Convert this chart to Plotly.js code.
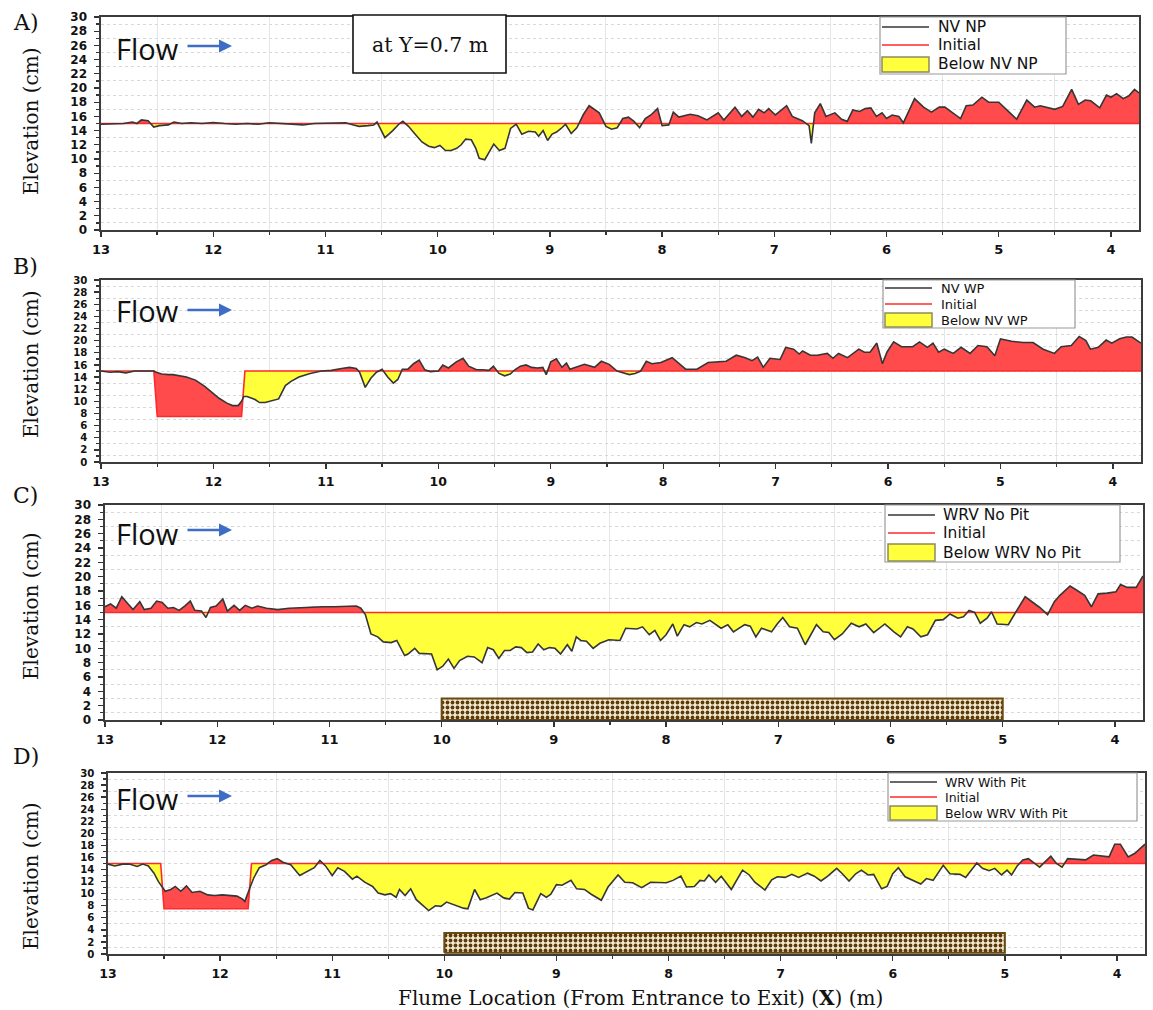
<!DOCTYPE html>
<html><head><meta charset="utf-8">
<script src="https://cdn.plot.ly/plotly-3.0.1.min.js"></script>
<style>html,body{margin:0;padding:0;background:#fff}#chart{width:1153px;height:1010px}</style>
</head><body><div id="chart"></div>
<script>
// ---------------- DATA ----------------
const stationsA = [13.00,12.90,12.80,12.72,12.68,12.64,12.58,12.53,12.48,12.40,12.35,12.28,12.20,12.10,12.00,11.90,11.80,11.70,11.60,11.50,11.40,11.30,11.20,11.10,11.00,10.90,10.82,10.75,10.70,10.62,10.57,10.54,10.47,10.40,10.34,10.31,10.26,10.20,10.14,10.08,10.03,9.98,9.93,9.88,9.83,9.79,9.75,9.70,9.66,9.63,9.58,9.54,9.50,9.45,9.40,9.35,9.30,9.25,9.19,9.13,9.10,9.06,9.02,8.98,8.94,8.90,8.86,8.81,8.76,8.70,8.65,8.56,8.50,8.45,8.40,8.35,8.30,8.25,8.20,8.15,8.10,8.04,8.00,7.94,7.90,7.85,7.75,7.68,7.60,7.50,7.45,7.35,7.29,7.24,7.19,7.14,7.09,7.05,6.99,6.89,6.84,6.75,6.69,6.67,6.64,6.59,6.54,6.46,6.40,6.35,6.30,6.24,6.19,6.14,6.09,6.04,6.00,5.95,5.89,5.85,5.75,5.67,5.60,5.53,5.48,5.34,5.29,5.23,5.15,5.09,5.00,4.90,4.84,4.75,4.68,4.63,4.50,4.43,4.35,4.29,4.23,4.18,4.10,4.04,4.00,3.95,3.89,3.84,3.79,3.75];
const elevA = [14.9,14.9,15.0,15.2,15.0,15.5,15.4,14.5,14.7,14.8,15.2,15.0,15.1,15.0,15.15,15.0,14.9,15.0,14.9,15.1,15.0,14.9,14.8,15.0,15.0,15.0,15.1,14.8,14.6,14.7,14.8,15.2,13.0,14.0,15.0,15.3,14.6,13.5,12.4,11.8,11.6,11.9,11.2,11.2,11.5,12.0,12.8,12.7,11.5,10.1,9.9,11.0,12.1,11.2,11.5,14.3,14.9,13.5,13.9,13.8,13.2,14.0,12.6,13.5,13.8,14.3,14.9,13.6,14.4,16.3,17.5,16.5,14.6,14.2,14.4,15.7,15.9,15.3,14.4,15.7,16.2,17.1,14.7,14.8,16.6,15.9,16.3,16.1,15.5,16.5,15.5,17.3,16.0,16.8,15.9,17.0,16.5,17.1,16.2,17.5,16.0,15.4,14.7,12.2,16.5,17.8,16.0,16.5,15.6,15.3,16.9,16.7,17.1,17.2,16.0,16.5,15.7,16.2,16.0,15.1,18.5,17.3,16.6,17.3,17.3,15.7,17.5,17.6,18.7,18.0,18.0,16.5,15.6,18.3,17.3,17.5,17.0,17.4,19.8,17.7,18.3,18.2,17.2,19.0,18.7,19.2,18.5,18.9,19.8,19.3];

const stationsB = [13.00,12.92,12.85,12.78,12.70,12.60,12.53,12.51,12.46,12.40,12.36,12.24,12.16,12.08,12.01,11.95,11.88,11.83,11.78,11.75,11.73,11.70,11.63,11.59,11.54,11.47,11.42,11.36,11.31,11.24,11.14,11.04,10.95,10.86,10.79,10.73,10.70,10.65,10.60,10.55,10.50,10.45,10.40,10.36,10.32,10.27,10.22,10.17,10.12,10.07,10.00,9.96,9.91,9.84,9.78,9.73,9.66,9.61,9.55,9.51,9.46,9.41,9.36,9.32,9.27,9.22,9.17,9.12,9.07,9.04,9.00,8.95,8.90,8.86,8.83,8.70,8.61,8.55,8.48,8.41,8.35,8.30,8.25,8.20,8.15,8.10,8.02,7.92,7.80,7.70,7.60,7.50,7.44,7.35,7.27,7.21,7.16,7.11,7.05,6.96,6.91,6.84,6.79,6.76,6.69,6.63,6.54,6.49,6.44,6.36,6.26,6.21,6.16,6.10,6.05,6.01,5.95,5.88,5.78,5.72,5.65,5.60,5.55,5.50,5.42,5.35,5.27,5.20,5.12,5.05,5.00,4.90,4.80,4.71,4.62,4.52,4.46,4.37,4.30,4.24,4.20,4.13,4.06,4.01,3.94,3.88,3.83,3.75];
const elevB = [15.0,14.8,14.9,14.7,15.0,15.0,15.0,14.8,14.5,14.4,14.4,14.0,13.5,12.5,11.5,10.5,9.7,9.3,9.3,10.0,10.8,10.8,10.3,9.8,9.8,10.2,10.4,12.6,13.3,14.0,14.6,15.0,15.1,15.4,15.6,15.4,14.8,12.3,13.8,14.8,15.3,14.0,13.0,13.6,15.3,15.3,16.2,16.8,15.2,14.9,15.0,16.0,15.5,16.5,17.1,15.8,15.2,15.2,15.1,15.8,14.6,14.2,14.5,15.2,15.8,16.0,15.6,15.5,15.6,14.4,16.5,17.0,15.6,16.3,15.3,16.1,15.6,16.6,16.1,15.0,14.7,14.4,14.6,15.0,16.6,16.2,16.4,17.2,15.3,15.3,16.4,16.6,16.6,17.6,17.2,16.7,17.3,15.6,17.1,16.9,18.9,18.6,17.8,18.3,17.6,17.6,17.9,17.1,17.9,17.2,18.6,18.1,18.1,19.6,16.2,18.1,19.8,19.0,19.0,19.8,18.9,19.6,18.1,18.6,17.9,18.9,17.9,19.2,19.0,17.5,20.3,19.9,19.7,19.7,18.6,17.9,19.0,19.2,20.7,20.0,18.6,18.9,20.1,19.6,20.3,20.6,20.6,19.6];

const stationsC = [13.00,12.95,12.90,12.85,12.80,12.75,12.69,12.65,12.59,12.54,12.49,12.44,12.39,12.34,12.29,12.24,12.20,12.14,12.10,12.06,12.01,11.95,11.91,11.85,11.80,11.75,11.69,11.64,11.56,11.46,11.36,11.26,11.16,11.06,10.96,10.86,10.76,10.72,10.68,10.63,10.57,10.52,10.45,10.40,10.33,10.30,10.24,10.20,10.14,10.09,10.04,9.99,9.94,9.89,9.84,9.77,9.71,9.64,9.59,9.54,9.49,9.44,9.39,9.34,9.29,9.24,9.19,9.14,9.09,9.04,8.99,8.94,8.88,8.84,8.80,8.76,8.71,8.65,8.59,8.51,8.41,8.36,8.26,8.21,8.15,8.10,8.05,8.00,7.94,7.90,7.84,7.79,7.73,7.68,7.61,7.51,7.45,7.40,7.30,7.25,7.20,7.15,7.06,7.01,6.96,6.90,6.83,6.76,6.66,6.60,6.55,6.50,6.43,6.35,6.28,6.22,6.15,6.05,5.97,5.91,5.85,5.80,5.73,5.67,5.60,5.53,5.47,5.40,5.35,5.30,5.25,5.20,5.14,5.10,5.05,4.95,4.89,4.80,4.74,4.67,4.60,4.54,4.49,4.40,4.34,4.27,4.21,4.15,4.07,3.99,3.95,3.89,3.81,3.75];
const elevC = [15.8,16.2,15.6,17.2,16.3,15.4,16.5,15.4,15.6,16.6,16.4,15.6,15.7,15.3,15.9,16.6,15.3,15.2,14.3,15.7,15.9,16.9,15.2,16.0,15.3,16.0,15.6,15.9,15.6,15.4,15.6,15.7,15.8,15.8,15.8,15.9,15.9,15.6,14.7,12.0,11.6,10.9,10.8,11.1,9.0,9.2,10.0,9.3,9.3,9.2,7.0,7.5,8.5,7.2,8.3,8.9,8.8,8.0,10.1,9.8,8.6,9.7,9.7,10.2,10.1,9.4,9.5,10.6,9.8,10.1,10.0,9.2,10.5,9.6,11.6,11.1,11.0,10.0,10.7,11.2,11.1,12.8,12.7,13.0,11.9,12.5,11.1,11.9,13.4,11.7,13.3,13.0,13.6,13.4,13.9,12.8,13.3,12.3,13.3,13.1,11.6,12.8,12.3,13.4,14.3,13.0,12.8,10.5,13.3,12.3,12.2,11.2,12.0,13.5,13.0,13.4,12.2,13.4,12.3,11.6,13.0,12.7,11.6,11.9,13.9,14.0,14.8,14.2,14.4,15.3,15.0,13.5,14.2,15.1,13.4,13.3,14.9,17.2,16.5,15.7,14.7,16.5,17.4,18.7,18.1,17.4,15.8,17.6,17.7,17.9,18.9,18.5,18.5,20.1];

const stationsD = [13.00,12.94,12.87,12.81,12.74,12.69,12.64,12.59,12.55,12.51,12.49,12.44,12.40,12.35,12.30,12.25,12.18,12.11,12.05,11.98,11.92,11.85,11.80,11.78,11.74,11.70,11.65,11.59,11.54,11.49,11.44,11.37,11.29,11.22,11.16,11.11,11.06,11.00,10.95,10.89,10.82,10.78,10.71,10.64,10.59,10.53,10.48,10.43,10.40,10.35,10.30,10.25,10.20,10.14,10.08,10.03,9.98,9.90,9.83,9.79,9.73,9.68,9.63,9.53,9.47,9.42,9.37,9.30,9.25,9.21,9.14,9.09,9.05,9.00,8.95,8.87,8.82,8.75,8.69,8.60,8.54,8.45,8.39,8.32,8.24,8.16,8.09,8.02,7.96,7.89,7.84,7.77,7.72,7.68,7.64,7.58,7.53,7.44,7.34,7.28,7.23,7.14,7.08,7.03,6.96,6.90,6.84,6.76,6.70,6.64,6.58,6.50,6.45,6.39,6.33,6.28,6.22,6.17,6.10,6.05,6.00,5.95,5.89,5.82,5.75,5.70,5.64,5.55,5.49,5.40,5.35,5.25,5.20,5.14,5.09,5.03,4.98,4.94,4.89,4.84,4.79,4.74,4.69,4.64,4.59,4.54,4.49,4.44,4.36,4.28,4.21,4.13,4.07,4.02,3.97,3.90,3.84,3.75];
const elevD = [14.9,14.6,14.9,14.9,14.5,14.9,14.6,13.4,12.0,10.9,10.4,10.7,11.2,10.4,11.3,10.2,10.4,9.8,9.7,9.8,9.7,9.6,9.1,8.7,10.7,12.6,14.3,14.8,15.5,15.8,15.2,14.8,13.0,13.7,14.3,15.5,14.6,13.0,14.3,13.7,12.4,12.9,11.9,11.2,10.1,9.8,10.0,9.4,10.7,9.7,10.8,9.0,8.2,7.2,8.0,7.9,8.6,8.0,7.6,7.5,10.7,9.0,9.3,10.1,9.3,9.1,10.2,10.1,7.6,7.3,10.0,9.4,9.9,11.5,11.4,12.2,10.8,10.7,9.9,8.9,11.1,13.1,11.9,11.8,11.0,11.9,11.8,11.8,12.2,12.9,11.1,11.2,12.2,12.1,13.1,11.9,12.9,10.7,13.9,13.1,11.9,10.6,12.3,12.8,12.7,13.2,12.7,13.4,12.9,12.1,12.9,14.2,13.3,12.1,13.3,13.9,13.1,13.2,10.8,11.2,13.3,14.3,12.8,12.2,11.6,12.5,12.2,14.7,13.3,13.2,12.7,15.1,14.2,13.8,14.2,13.1,13.9,13.1,14.6,15.6,15.8,15.1,14.4,15.3,16.2,15.0,14.4,15.8,15.7,15.6,16.4,16.2,16.1,18.2,18.2,16.1,16.7,18.2];

// initial bed profiles
const initFlatX = [13, 3.75];
const initFlatZ = [15, 15];
const initPitX = [13, 12.53, 12.50, 11.75, 11.72, 3.75];
const initPitZ = [15, 15, 7.5, 7.5, 15, 15];

// vegetation (WRV) zone
const vegZoneX = [10, 5];
const vegZoneZC = [0, 3];
const vegZoneZD = [0.2, 3.5];

const seriesNames = ['NV NP', 'NV WP', 'WRV No Pit', 'WRV With Pit'];
const panelLetters = ['A)', 'B)', 'C)', 'D)'];

// ---------------- HELPERS ----------------
const W = 1153, H = 1010;
const px = x => x / W;
const py = y => 1 - y / H;

function interp(xs, ys, x) {
  for (let i = 0; i < xs.length - 1; i++) {
    const a = xs[i], b = xs[i + 1];
    if ((x <= a && x >= b) || (x >= a && x <= b)) {
      if (a === b) return ys[i];
      return ys[i] + (ys[i + 1] - ys[i]) * (x - a) / (b - a);
    }
  }
  return ys[ys.length - 1];
}

function buildFill(xs, zs, ix, iz) {
  const set = new Map();
  xs.concat(ix).forEach(v => set.set(Math.round(v * 1e6), v));
  const grid = Array.from(set.values()).sort((a, b) => b - a);
  const gx = [], gp = [], gb = [];
  for (let i = 0; i < grid.length; i++) {
    const x = grid[i], p = interp(xs, zs, x), b = interp(ix, iz, x);
    gx.push(x); gp.push(p); gb.push(b);
    if (i < grid.length - 1) {
      const x2 = grid[i + 1], p2 = interp(xs, zs, x2), b2 = interp(ix, iz, x2);
      const d1 = p - b, d2 = p2 - b2;
      if (d1 * d2 < 0) {
        const t = d1 / (d1 - d2);
        const xc = x + t * (x2 - x), pc = p + t * (p2 - p);
        gx.push(xc); gp.push(pc); gb.push(pc);
      }
    }
  }
  return {gx, gp, gb,
    up: gp.map((v, i) => Math.max(v, gb[i])),
    dn: gp.map((v, i) => Math.min(v, gb[i]))};
}

// ---------------- PANELS (geometry in px) ----------------
const panels = [
  {x: stationsA, z: elevA, ix: initFlatX, iz: initFlatZ, dom: [101, 1139, 17, 230], xfs: 13, yfs: 12,
   leg: {box: [880, 17, 1066, 74], rows: [27, 45, 64], s: [882, 929], yb: [57, 72], tx: 936, fs: 15.5},
   flowY: 48, arrowY: 46, letterY: 22, titleY: 121},
  {x: stationsB, z: elevB, ix: initPitX, iz: initPitZ, dom: [101, 1141, 280, 462], xfs: 12.5, yfs: 10.2,
   leg: {box: [883, 280, 1075, 328], rows: [288, 304, 320], s: [885, 932], yb: [313, 327], tx: 939, fs: 13},
   flowY: 310, arrowY: 310, letterY: 266, titleY: 364},
  {x: stationsC, z: elevC, ix: initFlatX, iz: initFlatZ, dom: [105, 1143, 505, 720], xfs: 13, yfs: 12,
   leg: {box: [885, 505, 1120, 562], rows: [515, 533, 553], s: [888, 935], yb: [544, 561], tx: 941, fs: 15.5},
   flowY: 533, arrowY: 530, letterY: 495, titleY: 606, veg: vegZoneZC},
  {x: stationsD, z: elevD, ix: initPitX, iz: initPitZ, dom: [108, 1145, 773, 954], xfs: 12.5, yfs: 10.2,
   leg: {box: [888, 773, 1137, 821], rows: [782, 797, 813], s: [890, 937], yb: [806, 820], tx: 943, fs: 12.5},
   flowY: 798, arrowY: 796, letterY: 756, titleY: 876, veg: vegZoneZD}
];

const traces = [];
const layout = {
  width: W, height: H, margin: {l: 0, r: 0, t: 0, b: 0},
  paper_bgcolor: '#fff', plot_bgcolor: '#fff', showlegend: false,
  shapes: [], annotations: []
};

const tickFontFam = 'DejaVu Sans';

panels.forEach((P, k) => {
  const n = k + 1;
  const xa = n === 1 ? 'x' : 'x' + n, ya = n === 1 ? 'y' : 'y' + n;
  const xk = n === 1 ? 'xaxis' : 'xaxis' + n, yk = n === 1 ? 'yaxis' : 'yaxis' + n;
  const [l, r, t, b] = P.dom;
  layout[xk] = {
    domain: [px(l), px(r)], anchor: ya, range: [13, 3.75], autorange: false,
    dtick: 1, tick0: 0, ticks: 'outside', ticklen: 5, tickwidth: 1.3, tickcolor: '#333',
    showgrid: false, zeroline: false, showline: true, mirror: true, linecolor: '#3c3c3c', linewidth: 1.6,
    minor: {dtick: 0.5, tick0: 0, ticks: 'outside', ticklen: 3, tickcolor: '#333', showgrid: true, gridcolor: '#e6e6e6', gridwidth: 1},
    tickfont: {family: tickFontFam, size: P.xfs, color: '#111', weight: 'bold'}, ticklabelstandoff: 2
  };
  layout[yk] = {
    domain: [py(b), py(t)], anchor: xa, range: [0, 30], autorange: false,
    dtick: 2, tick0: 0, ticks: 'outside', ticklen: 5, tickwidth: 1.3, tickcolor: '#333',
    showgrid: false, zeroline: false, showline: true, mirror: true, linecolor: '#3c3c3c', linewidth: 1.6,
    minor: {dtick: 1, ticks: 'outside', ticklen: 3, tickcolor: '#333', showgrid: true, gridcolor: '#d8d8d8', griddash: 'dot', gridwidth: 1},
    tickfont: {family: tickFontFam, size: P.yfs, color: '#111', weight: 'bold'}, ticklabelstandoff: 5
  };

  const F = buildFill(P.x, P.z, P.ix, P.iz);
  const common = {xaxis: xa, yaxis: ya, mode: 'lines', hoverinfo: 'skip', showlegend: false};
  traces.push(Object.assign({x: F.gx, y: F.gb, line: {width: 0, color: 'rgba(0,0,0,0)'}}, common));
  traces.push(Object.assign({x: F.gx, y: F.up, fill: 'tonexty', fillcolor: '#ff4b4b', line: {width: 0, color: 'rgba(0,0,0,0)'}}, common));
  traces.push(Object.assign({x: F.gx, y: F.gb, line: {width: 0, color: 'rgba(0,0,0,0)'}}, common));
  traces.push(Object.assign({x: F.gx, y: F.dn, fill: 'tonexty', fillcolor: '#ffff3c', line: {width: 0, color: 'rgba(0,0,0,0)'}}, common));
  if (P.veg) {
    traces.push(Object.assign({
      x: [vegZoneX[0], vegZoneX[1], vegZoneX[1], vegZoneX[0], vegZoneX[0]],
      y: [P.veg[0], P.veg[0], P.veg[1], P.veg[1], P.veg[0]],
      fill: 'toself', fillcolor: '#f3e9cf',
      fillpattern: {shape: '.', fgcolor: '#5b3b0e', bgcolor: '#f3e9cf', size: 5, solidity: 0.45},
      line: {width: 2, color: '#6b4a12'}
    }, common));
  }
  traces.push(Object.assign({x: P.ix, y: P.iz, line: {width: 1.6, color: '#ff2a2a'}, name: 'Initial'}, common));
  traces.push(Object.assign({x: P.x, y: P.z, line: {width: 1.6, color: '#363636'}, name: seriesNames[k]}, common));

  // legend (drawn manually)
  const L = P.leg;
  layout.shapes.push({type: 'rect', xref: 'paper', yref: 'paper', x0: px(L.box[0]), x1: px(L.box[2]), y0: py(L.box[1]), y1: py(L.box[3]),
    line: {color: '#9a9a9a', width: 1.2}, fillcolor: '#ffffff', layer: 'above'});
  layout.shapes.push({type: 'line', xref: 'paper', yref: 'paper', x0: px(L.s[0]), x1: px(L.s[1]), y0: py(L.rows[0]), y1: py(L.rows[0]),
    line: {color: '#363636', width: 1.6}});
  layout.shapes.push({type: 'line', xref: 'paper', yref: 'paper', x0: px(L.s[0]), x1: px(L.s[1]), y0: py(L.rows[1]), y1: py(L.rows[1]),
    line: {color: '#ff2a2a', width: 1.6}});
  layout.shapes.push({type: 'rect', xref: 'paper', yref: 'paper', x0: px(L.s[0]), x1: px(L.s[1]), y0: py(L.yb[0]), y1: py(L.yb[1]),
    line: {color: '#8c8c5a', width: 1.5}, fillcolor: '#ffff3c'});
  const legTexts = [seriesNames[k], 'Initial', 'Below ' + seriesNames[k]];
  legTexts.forEach((txt, i) => layout.annotations.push({
    xref: 'paper', yref: 'paper', x: px(L.tx), y: py(L.rows[i]), xanchor: 'left', yanchor: 'middle',
    text: txt, showarrow: false, font: {family: 'DejaVu Sans', size: L.fs, color: '#111'}
  }));

  // Flow label and arrow
  layout.annotations.push({xref: 'paper', yref: 'paper', x: px(114), y: py(P.flowY), xanchor: 'left', yanchor: 'middle',
    text: 'Flow', showarrow: false, font: {family: 'Open Sans', size: 29, color: '#111'}});
  layout.annotations.push({xref: 'paper', yref: 'paper', x: px(232), y: py(P.arrowY), axref: 'paper', ayref: 'paper',
    ax: px(186), ay: py(P.arrowY), text: '', showarrow: true, arrowhead: 2, arrowsize: 1, arrowwidth: 2.6,
    arrowcolor: '#3d6dc5', standoff: 0, startstandoff: 0});

  // panel letter
  layout.annotations.push({xref: 'paper', yref: 'paper', x: px(11), y: py(P.letterY), xanchor: 'left', yanchor: 'middle',
    text: panelLetters[k], showarrow: false, font: {family: 'DejaVu Serif', size: 22, color: '#111'}});
  // y title
  layout.annotations.push({xref: 'paper', yref: 'paper', x: px(31), y: py(P.titleY), xanchor: 'center', yanchor: 'middle',
    text: 'Elevation (cm)', textangle: -90, showarrow: false, font: {family: 'DejaVu Serif', size: 20, color: '#111'}});
});

// "at Y=0.7 m" box
layout.shapes.push({type: 'rect', xref: 'paper', yref: 'paper', x0: px(353), x1: px(506), y0: py(15), y1: py(73),
  line: {color: '#111', width: 1.6}, fillcolor: '#ffffff', layer: 'above'});
layout.annotations.push({xref: 'paper', yref: 'paper', x: px(429.5), y: py(45), xanchor: 'center', yanchor: 'middle',
  text: 'at Y=0.7 m', showarrow: false, font: {family: 'DejaVu Serif', size: 20.5, color: '#111'}});

// x-axis title
layout.annotations.push({xref: 'paper', yref: 'paper', x: px(640), y: py(998), xanchor: 'center', yanchor: 'middle',
  text: 'Flume Location (From Entrance to Exit) (<b>X</b>) (m)', showarrow: false,
  font: {family: 'DejaVu Serif', size: 20, color: '#111'}});

Plotly.newPlot('chart', traces, layout, {displayModeBar: false, staticPlot: true});
</script></body></html>
